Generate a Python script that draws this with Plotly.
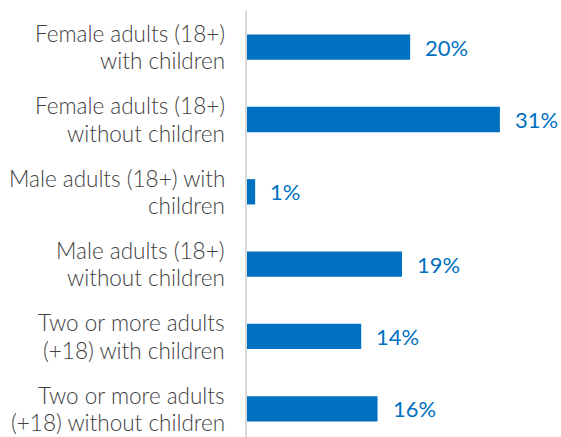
import plotly.graph_objects as go

categories = [
    "Female adults (18+)<br>with children",
    "Female adults (18+)<br>without children",
    "Male adults (18+) with<br>children",
    "Male adults (18+)<br>without children",
    "Two or more adults<br>(+18) with children",
    "Two or more adults<br>(+18) without children",
]
values = [20, 31, 1, 19, 14, 16]
value_labels = [f"{v}%" for v in values]

BLUE = "#0070C0"
GREY_TEXT = "#404040"
FONT = "Lato"

fig = go.Figure(
    go.Bar(
        x=values,
        y=categories,
        orientation="h",
        marker=dict(color=BLUE, line=dict(width=0)),
        width=0.35,
        hoverinfo="skip",
    )
)

# value labels just past each bar end
for v, c, t in zip(values, categories, value_labels):
    fig.add_annotation(
        x=v, y=c, text=t, showarrow=False, xanchor="left", yanchor="middle",
        xshift=13, font=dict(family=FONT, size=22, color=BLUE, weight=400),
    )

# category labels (two lines each, tighter line spacing than plotly's default)
for c in categories:
    lines = c.split("<br>")
    for i, line in enumerate(lines):
        fig.add_annotation(
            x=0, xref="paper", y=c, yref="y", text=line, showarrow=False,
            xanchor="right", yanchor="middle", xshift=-20,
            yshift=(13.6 if i == 0 else -13.6),
            font=dict(family=FONT, size=22.5, color=GREY_TEXT, weight=300),
        )

fig.update_layout(
    width=561, height=437,
    margin=dict(l=247, r=4, t=11, b=0, autoexpand=False),
    paper_bgcolor="white", plot_bgcolor="white",
    showlegend=False,
    font=dict(family=FONT, size=22, color=GREY_TEXT, weight=300),
    xaxis=dict(range=[0, 38], visible=False, fixedrange=True, automargin=False),
    yaxis=dict(
        type="category", categoryorder="array", categoryarray=categories,
        range=[5.39, -0.5], showline=True, linecolor="#d9d9d9", linewidth=2,
        ticks="", showgrid=False, zeroline=False, showticklabels=False,
        automargin=False, fixedrange=True,
    ),
)

fig.write_html(
    "out.html",
    config={"displayModeBar": False},
    post_script="document.body.style.margin='0';",
)
